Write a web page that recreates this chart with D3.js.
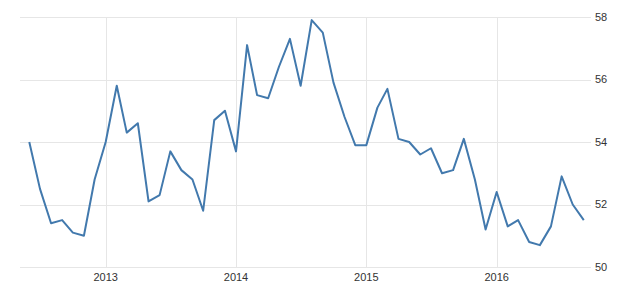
<!DOCTYPE html>
<html lang="en">
<head>
<script src="https://d3js.org/d3.v7.min.js"></script>
<style>
body { margin: 0; background: #fff; }
#chart text { font-family: "Liberation Sans", Arial, sans-serif; font-size: 11px; fill: #333; }
</style>
</head>
<body>
<div id="chart"></div>
<script>
// monthly values, June 2012 - September 2016
var startMonth = [2012, 5];
var values = [
  54.0, 52.5, 51.4, 51.5, 51.1, 51.0, 52.8,
  54.0, 55.8, 54.3, 54.6, 52.1, 52.3, 53.7, 53.1, 52.8, 51.8, 54.7, 55.0,
  53.7, 57.1, 55.5, 55.4, 56.4, 57.3, 55.8, 57.9, 57.5, 55.9, 54.8, 53.9,
  53.9, 55.1, 55.7, 54.1, 54.0, 53.6, 53.8, 53.0, 53.1, 54.1, 52.8, 51.2,
  52.4, 51.3, 51.5, 50.8, 50.7, 51.3, 52.9, 52.0, 51.5
];
var yTicks = [50, 52, 54, 56, 58];
var xTickYears = [2013, 2014, 2015, 2016];

var data = values.map(function(v, i) {
  return { date: new Date(startMonth[0], startMonth[1] + i, 1), value: v };
});

var W = 640, H = 298;
var plotLeft = 20, plotRight = 587, plotTop = 17, plotBottom = 267;

var svg = d3.select("#chart").append("svg")
  .attr("width", W).attr("height", H);

var x = d3.scaleTime()
  .domain([new Date(2012, 4, 6), new Date(2016, 8, 10)])
  .range([plotLeft, plotRight]);

var y = d3.scaleLinear()
  .domain([50, 58])
  .range([plotBottom, plotTop]);

// horizontal grid (runs a little past the plot, up to the labels)
svg.append("g").selectAll("line")
  .data(yTicks).enter().append("line")
  .attr("x1", plotLeft).attr("x2", plotRight + 4)
  .attr("y1", function(d) { return Math.round(y(d)) + 0.5; })
  .attr("y2", function(d) { return Math.round(y(d)) + 0.5; })
  .attr("stroke", "#e6e6e6");

// vertical grid
var xDates = xTickYears.map(function(yr) { return new Date(yr, 0, 1); });
svg.append("g").selectAll("line")
  .data(xDates).enter().append("line")
  .attr("x1", function(d) { return Math.round(x(d)) + 0.5; })
  .attr("x2", function(d) { return Math.round(x(d)) + 0.5; })
  .attr("y1", plotTop).attr("y2", plotBottom)
  .attr("stroke", "#e6e6e6");

// y labels on the right
svg.append("g").selectAll("text")
  .data(yTicks).enter().append("text")
  .attr("x", 595)
  .attr("y", function(d) { return y(d); })
  .attr("dy", "0.35em")
  .text(function(d) { return d; });

// x labels
svg.append("g").selectAll("text")
  .data(xDates).enter().append("text")
  .attr("x", function(d) { return x(d); })
  .attr("y", 281)
  .attr("text-anchor", "middle")
  .text(function(d) { return d.getFullYear(); });

var line = d3.line()
  .x(function(d) { return x(d.date); })
  .y(function(d) { return y(d.value); });

svg.append("path")
  .datum(data)
  .attr("d", line)
  .attr("fill", "none")
  .attr("stroke", "#4279ad")
  .attr("stroke-width", 2)
  .attr("stroke-linejoin", "round");
</script>
</body>
</html>
